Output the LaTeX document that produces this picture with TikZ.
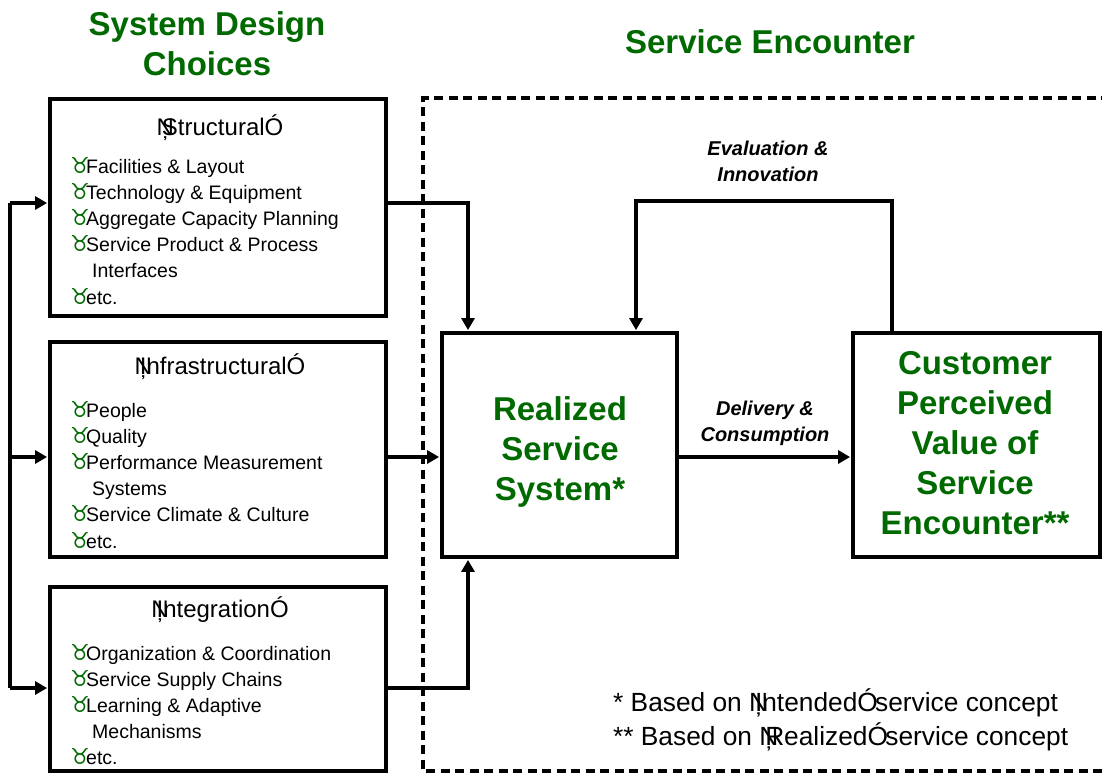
\documentclass[tikz,border=0pt]{standalone}
\usepackage{fontspec}
\setmainfont{Liberation Sans}
\newfontfamily\symfont{DejaVu Sans}
\usetikzlibrary{arrows.meta}
\definecolor{dgreen}{RGB}{0,105,0}
\newcommand{\bul}{\makebox[16pt][l]{\textcolor{dgreen}{\symfont\fontsize{22}{22}\selectfont ♉}}}
\newcommand{\oq}{Ņ\kern-0.5em}
\newcommand{\cq}{Ó\kern-0.1em}

\begin{document}
\begin{tikzpicture}[x=1pt, y=-1pt, every node/.style={inner sep=0pt},
    box/.style={draw, line width=3.8pt, rectangle},
    arr/.style={line width=3.6pt, -{Triangle[length=12pt,width=13pt]}, shorten >=1pt},
    head/.style={font=\fontsize{24}{28}\selectfont},
    item/.style={anchor=base west, font=\fontsize{19.5}{24}\selectfont},
    title/.style={align=center, text=dgreen, font=\fontsize{33}{40}\selectfont\bfseries},
    lbl/.style={align=center, font=\fontsize{20}{26}\selectfont\bfseries\itshape}]
\useasboundingbox (0,0) rectangle (1102,774);

% service encounter region
\draw[line width=3.8pt, dash pattern=on 9pt off 5.5pt] (1110,98) -- (423,98) -- (423,771) -- (1110,771);

% titles
\node[title] (tdesign) at (207,44) {System Design\\Choices};
\node[title] (tenc) at (770,42) {Service Encounter};

% design choice boxes
\node[box, minimum width=336, minimum height=217] (structural) at (218,207.5) {};
\node[box, minimum width=336, minimum height=215] (infra) at (218,449.5) {};
\node[box, minimum width=336, minimum height=184] (integration) at (218,679) {};
\node[head] (hs) at (220,128) {\oq StructuralÓ};
\node[head] (hi) at (220,367) {\oq InfrastructuralÓ};
\node[head] (hg) at (220,610) {\oq IntegrationÓ};
\foreach \txt [count=\i from 0] in {\bul Facilities \& Layout, \bul Technology \& Equipment,
    \bul Aggregate Capacity Planning, \bul Service Product \& Process, \hspace*{22pt}Interfaces, \bul etc.}
    \node[item] (s\i) at (70,173+26.2*\i) {\txt};
\foreach \txt [count=\i from 0] in {\bul People, \bul Quality, \bul Performance Measurement,
    \hspace*{22pt}Systems, \bul Service Climate \& Culture, \bul etc.}
    \node[item] (f\i) at (70,417+26.2*\i) {\txt};
\foreach \txt [count=\i from 0] in {\bul Organization \& Coordination, \bul Service Supply Chains,
    \bul Learning \& Adaptive, \hspace*{22pt}Mechanisms, \bul etc.}
    \node[item] (g\i) at (70,660+26.2*\i) {\txt};

% encounter boxes
\node[box, minimum width=235, minimum height=224] (realized) at (559.5,445) {};
\node[title] (trealized) at (560,452) {Realized\\Service\\System*};
\node[box, minimum width=247, minimum height=224] (customer) at (976.5,445) {};
\node[title] (tcustomer) at (975,443) {Customer\\Perceived\\Value of\\Service\\Encounter**};

\node[lbl] (eval) at (768,161) {Evaluation \&\\Innovation};
\node[lbl] (deliv) at (765,423) {Delivery \&\\Consumption};

\node[anchor=base west, font=\fontsize{26.3}{30}\selectfont] (n1) at (613,711) {* Based on \oq Intended\cq service concept};
\node[anchor=base west, font=\fontsize{26.3}{30}\selectfont] (n2) at (613,745) {** Based on \oq Realized\cq service concept};

% connectors
\coordinate (sT) at (10,203);
\coordinate (sM) at (10,457);
\coordinate (sB) at (10,688);
\draw[line width=3.6pt] (sT) -- (sB);
\foreach \from/\to in {sT/structural, sM/infra, sB/integration}
    \draw[arr] (\from) -- (\from -| \to.west);
\draw[arr] (structural.east |- sT) -| ([xshift=-91.5pt]realized.north);
\draw[arr] (integration.east |- sB) -| ([xshift=-91.5pt]realized.south);
\draw[arr] (infra.east |- sM) -- (realized.west |- sM);
\draw[arr] (realized.east |- sM) -- (customer.west |- sM);
\draw[arr] ([xshift=-84.5pt]customer.north) -- ++(0,-130) -| ([xshift=76.5pt]realized.north);
\end{tikzpicture}
\end{document}
